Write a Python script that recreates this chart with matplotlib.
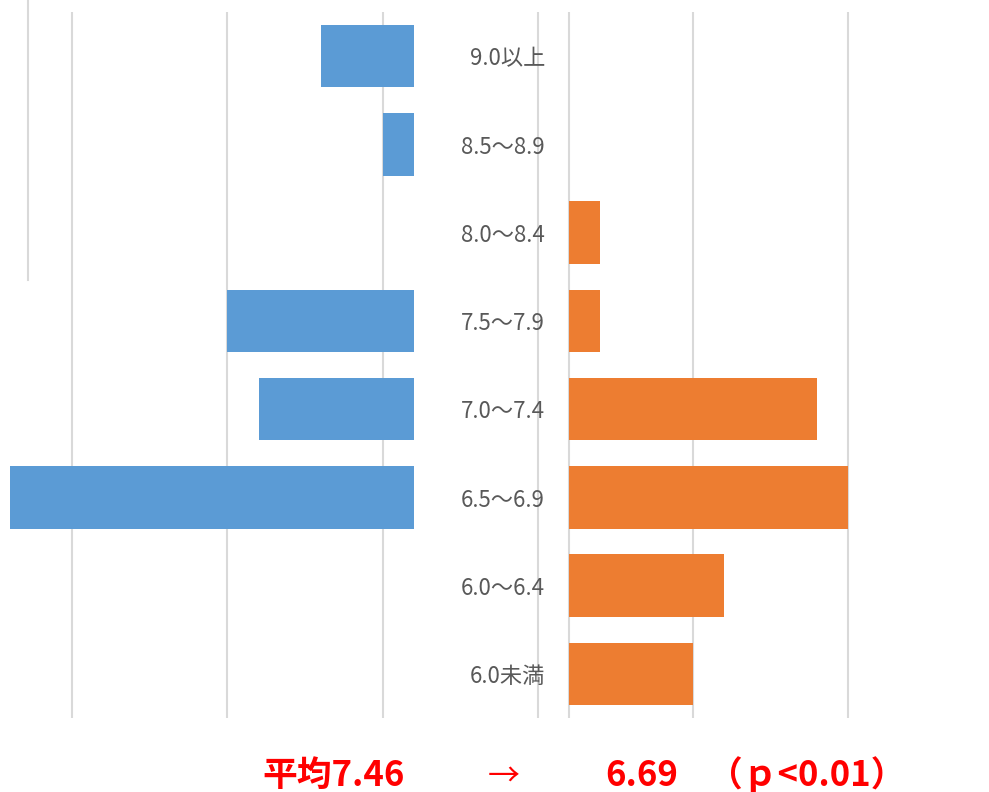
import matplotlib
matplotlib.use("Agg")
import matplotlib.pyplot as plt
from matplotlib.transforms import blended_transform_factory
from matplotlib.lines import Line2D

plt.rcParams['font.family'] = ['Noto Sans CJK JP', 'DejaVu Sans']

# Score bands, top to bottom
categories = ["9.0以上", "8.5〜8.9", "8.0〜8.4", "7.5〜7.9",
              "7.0〜7.4", "6.5〜6.9", "6.0〜6.4", "6.0未満"]
before_counts = [3, 1, 0, 6, 5, 13, 0, 0]
after_counts = [0, 0, 1, 1, 8, 9, 5, 4]

before_mean = "7.46"
after_mean = "6.69"
p_text = "（ｐ<0.01）"

left_grid = [11, 6, 1, -4]
right_grid = [0, 4, 9]

BLUE = "#5B9BD5"
ORANGE = "#ED7D31"
GRID = "#D9D9D9"
LABEL = "#595959"
RED = "#FF0000"

W, H = 989, 792
fig = plt.figure(figsize=(W / 100, H / 100), dpi=100)

unit = 31.0          # pixels per count
top_px, bot_px = 12, 718
ax_bottom = 1 - bot_px / H
ax_height = (bot_px - top_px) / H

# Left panel: counts grow leftward from x=413 px
l0, l1, lzero = 0, 560, 413.5
axl = fig.add_axes([l0 / W, ax_bottom, (l1 - l0) / W, ax_height])
axl.set_xlim((lzero - l0) / unit, (lzero - l1) / unit)

# Right panel: counts grow rightward from x=568 px
r0, r1, rzero = 560, 989, 568.5
axr = fig.add_axes([r0 / W, ax_bottom, (r1 - r0) / W, ax_height])
axr.set_xlim((r0 - rzero) / unit, (r1 - rzero) / unit)

ypos = list(range(len(categories)))
for ax, vals, color, grid in ((axl, before_counts, BLUE, left_grid),
                              (axr, after_counts, ORANGE, right_grid)):
    ax.set_ylim(len(categories) - 0.5, -0.5)
    for g in grid:
        ax.axvline(g, color=GRID, lw=1.5, zorder=0)
    ax.barh(ypos, vals, height=0.71, color=color, zorder=2)
    ax.set_axis_off()
    ax.patch.set_alpha(0)

# Category labels between the two panels
trans = blended_transform_factory(fig.transFigure, axl.transData)
for y, cat in zip(ypos, categories):
    fig.text(545 / W, y + 0.03, cat, transform=trans, ha="right",
             va="center", fontsize=16, color=LABEL)

# Stray frame line at upper left
fig.add_artist(Line2D([28 / W, 28 / W], [1, 1 - 280 / H],
                      color=GRID, lw=1.5, transform=fig.transFigure))

# Mean comparison line
base_y = 1 - 786 / H
style = dict(color=RED, fontsize=25, fontweight="bold", va="baseline")
fig.text(262 / W, base_y, "平均" + before_mean, **style)
fig.text(488 / W, base_y, "→", **{**style, "fontweight": "normal",
                                   "fontsize": 23})
fig.text(605 / W, base_y, after_mean, **style)
fig.text(708 / W, base_y, p_text, **style)

fig.savefig("out.png", dpi=100)
